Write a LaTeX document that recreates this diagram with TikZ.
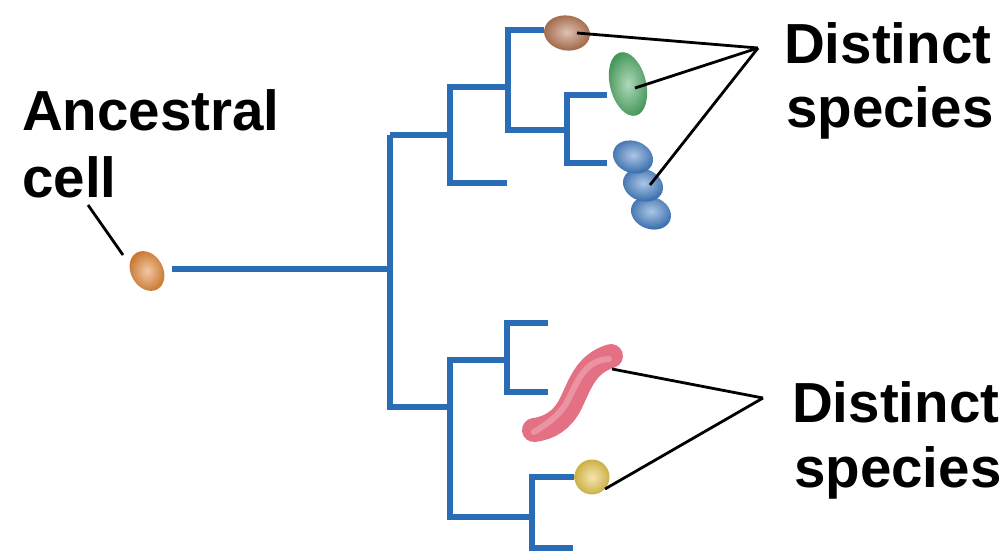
\documentclass[tikz,border=0pt]{standalone}
\usepackage{fontspec}
\setmainfont{Liberation Sans}
\usetikzlibrary{shapes.geometric}
\definecolor{branchblue}{RGB}{42,108,182}
\definecolor{cellorange}{RGB}{226,130,48}
\definecolor{cellbrown}{RGB}{182,118,82}
\definecolor{cellgreen}{RGB}{78,170,100}
\definecolor{cellblue}{RGB}{70,128,198}
\definecolor{cellyellow}{RGB}{232,200,80}
\definecolor{cellpink}{RGB}{228,112,132}
\tikzset{
  branch/.style={draw=branchblue, line width=5.5pt, line join=miter},
  pointer/.style={draw=black, line width=2.8pt},
  cell/.style 2 args={ellipse, inner sep=0pt, minimum width=#1, minimum height=#2},
  shade cell/.style={shading=radial, inner color=#1!45!white, outer color=#1!88!black},
  label/.style={anchor=base west, inner sep=0pt, font=\bfseries\fontsize{56.5}{66}\selectfont}
}
\begin{document}
\begin{tikzpicture}[x=1pt, y=-1pt]
\useasboundingbox (0,0) rectangle (1005,550);
\fill[white] (0,0) rectangle (1005,550);

% cells
\node[cell={42}{32}, shade cell=cellorange, rotate=-60] (anc) at (147,271) {};
\node[cell={46}{35}, shade cell=cellbrown, rotate=-8] (brown) at (567,33) {};
\node[cell={36}{65}, shade cell=cellgreen, rotate=14] (green) at (628,84) {};
\node[cell={41}{32}, shade cell=cellblue, rotate=-20] (blueC) at (651,213) {};
\node[cell={41}{32}, shade cell=cellblue, rotate=-20] (blueB) at (643,185) {};
\node[cell={41}{32}, shade cell=cellblue, rotate=-20] (blueA) at (633,157) {};
\node[circle, inner sep=0pt, minimum size=35pt, shade cell=cellyellow] (yellow) at (592,477) {};

% spiral-shaped cell
\coordinate (wormtop) at (611,356);
\coordinate (wormend) at (534,430);
\draw[cellpink, line width=24pt, line cap=round]
  (wormtop) .. controls (585,364) and (580,385) .. (570,405)
  .. controls (562,420) and (550,428) .. (wormend);
\draw[cellpink!50!white, line width=6pt, line cap=round, opacity=0.5]
  ([xshift=-2pt,yshift=-3pt]wormtop) .. controls (584,360) and (577,383) .. (567,402)
  .. controls (559,416) and (547,424) .. ([yshift=-2pt]wormend);

% branching tree
\coordinate (root) at (390,269);
\coordinate (up) at (390,135);
\coordinate (down) at (390,407);
\draw[branch] (172,269) -- (root);
\draw[branch] (up) -- (450,135);
\draw[branch] (up) -- (down) -- (450,407);
\draw[branch] (508,87) -| (450,183) -- (507,183);
\draw[branch] (brown.west) -| (508,130) -- (567,130);
\draw[branch] (607,95) -| (567,163) -- (607,163);
\draw[branch] (507,360) -| (450,517) -- (532,517);
\draw[branch] (548,323) -| (507,392) -- (548,392);
\draw[branch] (yellow.west) -| (532,548) -- (573,548);

% labels
\node[label] (ancA) at (22,130) {Ancestral};
\node[label] (ancB) at (22,197) {cell};
\node[label] (topA) at (784,63) {Distinct};
\node[label] (topB) at (786,127) {species};
\node[label] (botA) at (792,422) {Distinct};
\node[label] (botB) at (794,487) {species};

% pointer lines
\coordinate (topjoin) at (758,48);
\coordinate (botjoin) at (763,398);
\draw[pointer] (88,205) -- (123,255);
\draw[pointer] ([xshift=10pt]brown.center) -- (topjoin);
\draw[pointer] ([xshift=7pt,yshift=-4pt]green.center) -- (topjoin);
\draw[pointer] ([xshift=7pt]blueB.center) -- (topjoin);
\draw[pointer] (wormtop) ++(1,13) -- (botjoin);
\draw[pointer] ([xshift=13pt,yshift=-12pt]yellow.center) -- (botjoin);
\end{tikzpicture}
\end{document}
